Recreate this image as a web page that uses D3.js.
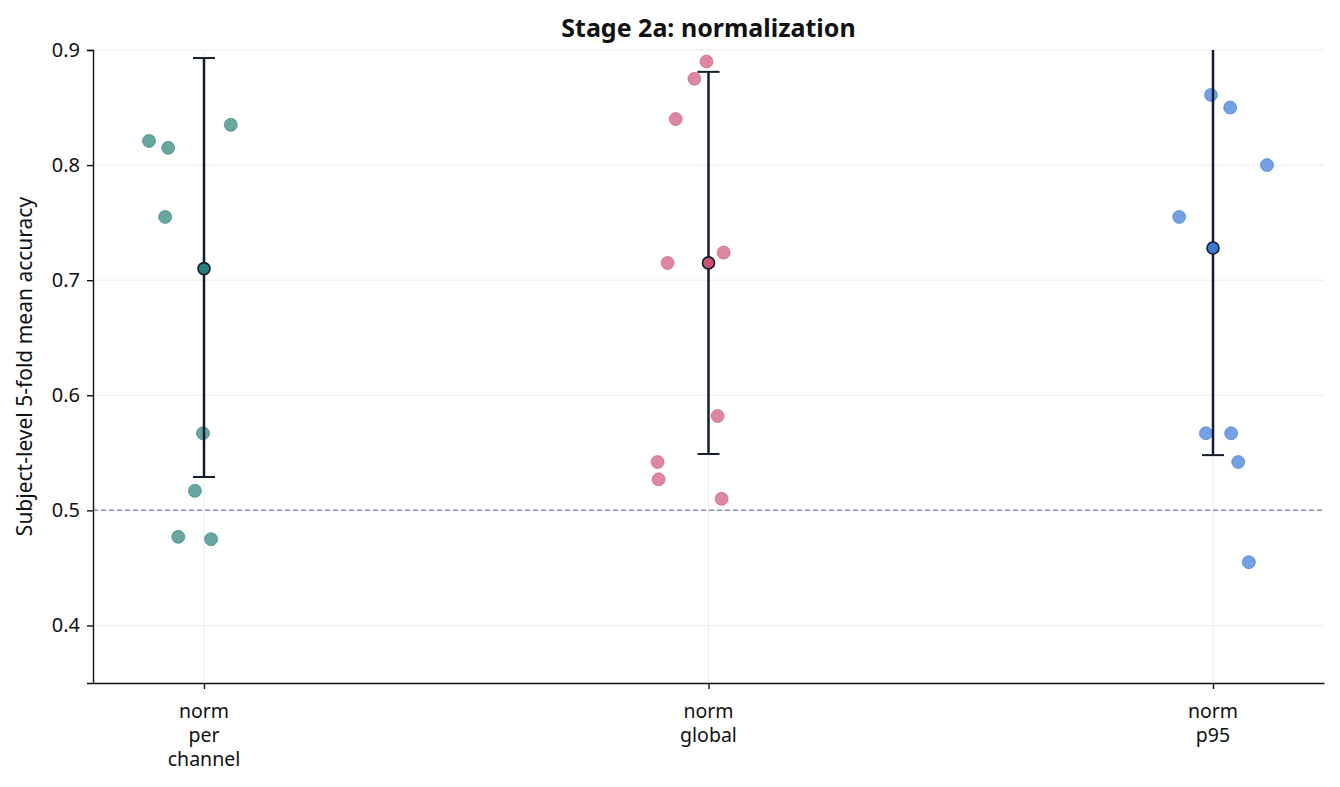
<!DOCTYPE html>
<html>
<head>
<meta charset="utf-8">
<script src="https://cdn.jsdelivr.net/npm/d3@7"></script>
<style>
  body { margin: 0; background: #fff; }
  svg text { font-family: "Noto Sans", "Open Sans", sans-serif; fill: #111; }
</style>
</head>
<body>
<div id="chart"></div>
<script>
// Categories and colours
const categories = ['norm per channel', 'norm global', 'norm p95'];
const tickLines = [['norm', 'per', 'channel'], ['norm', 'global'], ['norm', 'p95']];
const colors = ['#2a8077', '#cc5577', '#3b78d8'];

// Subject accuracies (y) and their horizontal jitter (in category units)
const perChannelAcc = [0.821, 0.815, 0.755, 0.835, 0.567, 0.517, 0.477, 0.475];
const perChannelJit = [-0.109, -0.071, -0.077, 0.053, -0.002, -0.018, -0.051, 0.014];
const globalAcc = [0.890, 0.875, 0.840, 0.715, 0.724, 0.582, 0.542, 0.527, 0.510];
const globalJit = [-0.004, -0.028, -0.065, -0.081, 0.030, 0.018, -0.101, -0.099, 0.026];
const p95Acc = [0.861, 0.850, 0.800, 0.755, 0.567, 0.567, 0.542, 0.455];
const p95Jit = [-0.004, 0.034, 0.107, -0.067, -0.014, 0.036, 0.050, 0.071];

// Mean and error bar bounds
const means = [0.710, 0.715, 0.728];
const lowers = [0.529, 0.549, 0.548];
const uppers = [0.893, 0.881, 0.965];

const yTicks = [0.4, 0.5, 0.6, 0.7, 0.8, 0.9];
const chanceLevel = 0.5;

const width = 1340, height = 787;
const margin = { top: 50, right: 16, bottom: 104, left: 93 };
const innerW = width - margin.left - margin.right;
const innerH = height - margin.top - margin.bottom;

const svg = d3.select('#chart').append('svg')
  .attr('width', width)
  .attr('height', height);

const g = svg.append('g')
  .attr('transform', `translate(${margin.left},${margin.top})`);

const x = d3.scaleLinear().domain([-0.22, 2.22]).range([0, innerW]);
const y = d3.scaleLinear().domain([0.35, 0.9]).range([innerH, 0]);

// clip for data
svg.append('clipPath').attr('id', 'clip')
  .append('rect').attr('width', innerW).attr('height', innerH);

// grid
g.selectAll('.hgrid').data(yTicks).enter().append('line')
  .attr('x1', 0).attr('x2', innerW)
  .attr('y1', d => y(d)).attr('y2', d => y(d))
  .attr('stroke', '#ebebeb').attr('stroke-width', 1);
g.selectAll('.vgrid').data(categories).enter().append('line')
  .attr('x1', (d, i) => x(i)).attr('x2', (d, i) => x(i))
  .attr('y1', 0).attr('y2', innerH)
  .attr('stroke', '#ebebeb').attr('stroke-width', 1);

// chance line
g.append('line')
  .attr('x1', 0).attr('x2', innerW)
  .attr('y1', y(chanceLevel)).attr('y2', y(chanceLevel))
  .attr('stroke', '#8592a8').attr('stroke-width', 1.5)
  .attr('stroke-dasharray', '5,3');

const groups = [
  { acc: perChannelAcc, jit: perChannelJit },
  { acc: globalAcc, jit: globalJit },
  { acc: p95Acc, jit: p95Jit }
];

const plot = g.append('g').attr('clip-path', 'url(#clip)');

// subject points
groups.forEach((grp, i) => {
  plot.selectAll(`.pt${i}`).data(grp.acc).enter().append('circle')
    .attr('cx', (d, j) => x(i + grp.jit[j]))
    .attr('cy', d => y(d))
    .attr('r', 6.5)
    .attr('fill', colors[i])
    .attr('fill-opacity', 0.7)
    .attr('stroke', colors[i])
    .attr('stroke-opacity', 0.6)
    .attr('stroke-width', 1);
});

// error bars
const capHalf = 11;
categories.forEach((c, i) => {
  plot.append('line')
    .attr('x1', x(i)).attr('x2', x(i))
    .attr('y1', y(lowers[i])).attr('y2', y(uppers[i]))
    .attr('stroke', '#141c2e').attr('stroke-width', 2.5);
  [lowers[i], uppers[i]].forEach(v => {
    plot.append('line')
      .attr('x1', x(i) - capHalf).attr('x2', x(i) + capHalf)
      .attr('y1', y(v)).attr('y2', y(v))
      .attr('stroke', '#141c2e').attr('stroke-width', 2);
  });
  plot.append('circle')
    .attr('cx', x(i)).attr('cy', y(means[i]))
    .attr('r', 6)
    .attr('fill', colors[i])
    .attr('stroke', '#141c2e').attr('stroke-width', 1.6);
});

// axes
const yAxis = g.append('g')
  .call(d3.axisLeft(y).tickValues(yTicks).tickFormat(d3.format('.1f')).tickSize(6).tickPadding(7));
yAxis.select('.domain').attr('stroke', '#111').attr('stroke-width', 1.4);
yAxis.selectAll('.tick line').attr('stroke', '#111').attr('stroke-width', 1.4);
yAxis.selectAll('.tick text').style('font-size', '20px').attr('fill', '#111');

const xAxis = g.append('g')
  .attr('transform', `translate(0,${innerH})`)
  .call(d3.axisBottom(x).tickValues([0, 1, 2]).tickFormat('').tickSize(6).tickSizeOuter(0));
xAxis.select('.domain').attr('stroke', '#111').attr('stroke-width', 1.4);
xAxis.selectAll('.tick line').attr('stroke', '#111').attr('stroke-width', 1.4);

// multi-line category labels, one text per line
tickLines.forEach((lines, i) => {
  lines.forEach((ln, k) => {
    g.append('text')
      .attr('x', x(i)).attr('y', innerH + 35 + k * 24)
      .attr('text-anchor', 'middle')
      .style('font-size', '19.5px')
      .text(ln);
  });
});

// labels
svg.append('text')
  .attr('x', margin.left + innerW / 2).attr('y', 37)
  .attr('text-anchor', 'middle')
  .style('font-size', '25px').style('font-weight', 'bold')
  .text('Stage 2a: normalization');

svg.append('text')
  .attr('transform', `translate(32,${margin.top + y(0.625)}) rotate(-90)`)
  .attr('text-anchor', 'middle')
  .style('font-size', '21px')
  .text('Subject-level 5-fold mean accuracy');
</script>
</body>
</html>
